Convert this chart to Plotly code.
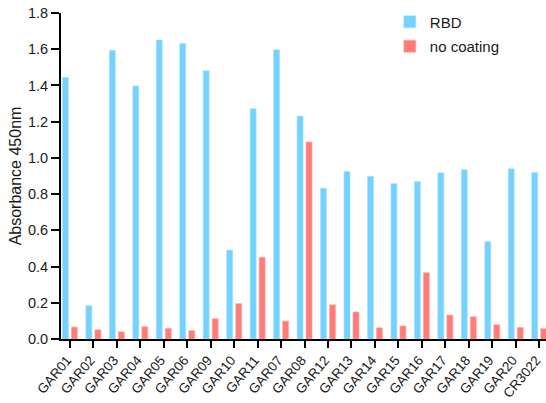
import plotly.graph_objects as go

categories = ["GAR01", "GAR02", "GAR03", "GAR04", "GAR05", "GAR06", "GAR09", "GAR10",
              "GAR11", "GAR07", "GAR08", "GAR12", "GAR13", "GAR14", "GAR15", "GAR16",
              "GAR17", "GAR18", "GAR19", "GAR20", "CR3022"]
rbd = [1.444, 0.184, 1.594, 1.397, 1.651, 1.632, 1.481, 0.491, 1.272, 1.597, 1.231,
       0.832, 0.925, 0.898, 0.858, 0.869, 0.918, 0.935, 0.537, 0.940, 0.920]
no_coating = [0.066, 0.051, 0.040, 0.068, 0.059, 0.046, 0.112, 0.195, 0.451, 0.099, 1.088,
              0.189, 0.149, 0.062, 0.072, 0.366, 0.132, 0.123, 0.079, 0.064, 0.057]
y_ticks = [0.0, 0.2, 0.4, 0.6, 0.8, 1.0, 1.2, 1.4, 1.6, 1.8]

font = "Liberation Sans, Arial, sans-serif"
text_color = "#1a1a1a"

fig = go.Figure()
fig.add_trace(go.Bar(x=categories, y=rbd, name="RBD", legendgroup="a",
                     marker=dict(color="#73D2FF", line=dict(color="#A8E3FF", width=0.6))))
fig.add_trace(go.Bar(x=categories, y=no_coating, name="no coating", legendgroup="b",
                     marker=dict(color="#FF7C79", line=dict(color="#FFAAA8", width=0.6))))

fig.update_layout(
    width=546, height=403,
    margin=dict(l=61, r=0, t=13, b=64),
    paper_bgcolor="white", plot_bgcolor="white",
    barmode="group", bargap=0.233, bargroupgap=0.333,
    font=dict(family=font, size=14, color=text_color),
    legend=dict(x=0.678, y=1.023, xanchor="left", yanchor="top",
                bgcolor="rgba(0,0,0,0)", font=dict(size=15, color=text_color),
                tracegroupgap=2, traceorder="grouped"),
    showlegend=True,
)
fig.update_xaxes(
    range=[-0.38, 20.29], showline=True, linecolor="black", linewidth=2,
    ticks="outside", ticklen=7, tickwidth=2, tickcolor="black",
    tickangle=-50, tickfont=dict(size=13.5, color=text_color), showgrid=False,
    ticklabelshift=-3, ticklabelstandoff=-1, automargin=False,
)
fig.update_yaxes(
    range=[0, 1.8], tickvals=y_ticks, tickformat=".1f",
    showline=True, linecolor="black", linewidth=2,
    ticks="outside", ticklen=8, tickwidth=2, tickcolor="black",
    tickfont=dict(size=14.5, color=text_color), showgrid=False, zeroline=False,
    title=dict(text="Absorbance 450nm", font=dict(size=16, color=text_color), standoff=2),
    automargin=False,
)

fig.write_html("out.html")
